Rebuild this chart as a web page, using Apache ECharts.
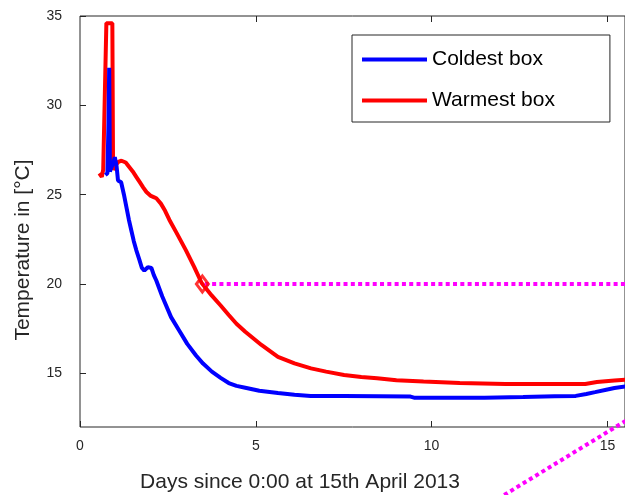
<!DOCTYPE html>
<html>
<head>
<meta charset="utf-8">
<script src="https://cdn.jsdelivr.net/npm/echarts@6/dist/echarts.min.js"></script>
<style>html,body{margin:0;padding:0;background:#fff;}#c{width:625px;height:495px;}</style>
</head>
<body>
<div id="c"></div>
<script>
const coldDays = [0.72,0.78,0.81,0.83,0.85,0.9,0.95,0.99,1.04,1.08,1.12,1.17,1.25,1.32,1.39,1.46,1.53,1.6,1.69,1.76,1.83,1.93,2.03,2.1,2.17,2.34,2.59,2.82,3.05,3.3,3.5,3.75,4.0,4.23,4.45,4.7,5.1,5.63,6.1,6.56,7.5,8.5,9.4,9.5,10.5,11.5,12.6,13.5,14.1,14.4,14.65,15.0,15.2,15.6];
const coldTemp = [26.1,26.2,29.0,32.1,26.3,26.3,26.8,27.1,26.6,25.8,25.75,25.7,25.0,24.3,23.6,23.0,22.4,21.9,21.35,20.9,20.75,20.95,20.9,20.5,20.2,19.3,18.15,17.4,16.65,16.0,15.55,15.1,14.75,14.46,14.3,14.2,14.03,13.9,13.8,13.74,13.74,13.72,13.7,13.64,13.64,13.64,13.68,13.72,13.74,13.85,13.95,14.1,14.18,14.3];
const warmDays = [0.55,0.62,0.66,0.75,0.92,0.94,0.98,1.03,1.1,1.18,1.3,1.4,1.5,1.6,1.7,1.8,1.89,2.0,2.08,2.17,2.3,2.42,2.54,2.75,3.01,3.25,3.46,3.75,4.0,4.23,4.45,4.7,5.16,5.63,6.1,6.57,7.0,7.51,8.0,8.45,9.0,9.77,10.8,12.1,13.0,14.37,14.7,15.2,15.6];
const warmTemp = [26.2,26.0,26.4,34.6,34.6,26.4,26.3,26.7,26.85,26.9,26.8,26.55,26.3,26.0,25.7,25.4,25.15,24.95,24.88,24.8,24.5,24.1,23.6,22.85,21.9,20.95,20.06,19.35,18.8,18.27,17.78,17.33,16.59,15.93,15.56,15.28,15.1,14.91,14.8,14.73,14.62,14.54,14.46,14.41,14.41,14.41,14.52,14.6,14.65];
const levelDays = [3.55, 15.6];
const levelTemp = [20.0, 20.0];
const slopeDays = [11.0, 15.6];
const slopeTemp = [6.92, 12.44];
const markerDays = [3.48];
const markerTemp = [20.0];
const xTicks = [0, 5, 10, 15];
const xTopTicks = [5, 10, 15];
const yTicks = [15, 20, 25, 30, 35];
const seriesNames = ['Coldest box', 'Warmest box'];

const zip = (a, b) => a.map((v, i) => [v, b[i]]);
const FONT = 'Liberation Sans, Arial, Helvetica, sans-serif';
const AX = '#262626';

const chart = echarts.init(document.getElementById('c'), null, {renderer: 'canvas'});
chart.setOption({
  animation: false,
  backgroundColor: '#fff',
  textStyle: {fontFamily: FONT},
  grid: {left: 80, top: 16, right: -5, bottom: 68, show: true, borderColor: AX, borderWidth: 1, backgroundColor: 'transparent'},
  xAxis: [{
    type: 'value', min: 0, max: 15.5, position: 'bottom',
    axisLine: {show: false},
    splitLine: {show: false},
    axisTick: {show: true, inside: true, length: 6, lineStyle: {color: AX}, customValues: xTicks},
    axisLabel: {color: AX, fontSize: 14, fontFamily: FONT, margin: 12, customValues: xTicks}
  }, {
    type: 'value', min: 0, max: 15.5, position: 'top',
    axisLine: {show: false},
    splitLine: {show: false},
    axisTick: {show: true, inside: true, length: 6, lineStyle: {color: AX}, customValues: xTopTicks},
    axisLabel: {show: false}
  }],
  yAxis: [{
    type: 'value', min: 12, max: 35, position: 'left',
    axisLine: {show: false},
    splitLine: {show: false},
    axisTick: {show: true, inside: true, length: 6, lineStyle: {color: AX}, customValues: yTicks},
    axisLabel: {color: AX, fontSize: 14, fontFamily: FONT, margin: 18, customValues: yTicks}
  }],
  legend: {
    data: seriesNames,
    orient: 'vertical',
    left: 352, top: 35,
    padding: [14, 55, 11, 10],
    icon: 'rect',
    itemWidth: 65, itemHeight: 4, itemGap: 20,
    borderColor: AX, borderWidth: 1, backgroundColor: '#fff',
    textStyle: {fontSize: 21, color: '#000', fontFamily: FONT}
  },
  graphic: [
    {type: 'text', x: 300, y: 482, style: {text: 'Days since 0:00 at 15th April 2013', fontSize: 21, fontFamily: FONT, fill: AX, align: 'center', verticalAlign: 'middle'}},
    {type: 'text', x: 23, y: 250, rotation: Math.PI / 2, style: {text: 'Temperature in [°C]', fontSize: 21, fontFamily: FONT, fill: AX, align: 'center', verticalAlign: 'middle'}}
  ],
  series: [
    {name: 'Warmest box', type: 'line', data: zip(warmDays, warmTemp), symbol: 'none', lineStyle: {color: '#ff0000', width: 4}, itemStyle: {color: '#ff0000'}, z: 2},
    {name: 'Coldest box', type: 'line', data: zip(coldDays, coldTemp), symbol: 'none', lineStyle: {color: '#0000ff', width: 4}, itemStyle: {color: '#0000ff'}, z: 3},
    {name: 'level', type: 'line', data: zip(levelDays, levelTemp), symbol: 'none', lineStyle: {color: '#ff00ff', width: 4, type: [4, 3.3]}, z: 4},
    {name: 'slope', type: 'line', data: zip(slopeDays, slopeTemp), symbol: 'none', clip: false, lineStyle: {color: '#ff00ff', width: 4, type: [4, 3.3]}, z: 4},
    {name: 'marker', type: 'scatter', data: zip(markerDays, markerTemp), symbol: 'diamond', symbolSize: [12, 16], itemStyle: {color: 'rgba(0,0,0,0)', borderColor: '#ff0000', borderWidth: 3}, z: 5}
  ]
});
</script>
</body>
</html>
